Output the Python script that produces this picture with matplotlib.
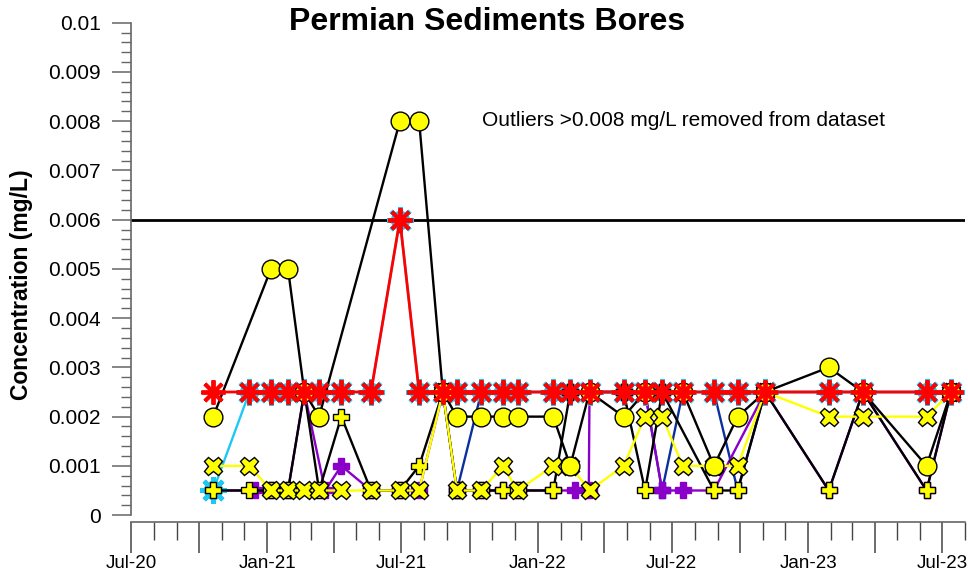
import matplotlib
matplotlib.use("Agg")
import matplotlib.pyplot as plt
import matplotlib.dates as mdates
from matplotlib.ticker import MultipleLocator, FuncFormatter
import numpy as np
import pandas as pd

plt.rcParams['font.family'] = ['Liberation Sans', 'DejaVu Sans']

# ---------------- data ----------------
dates = ["2020-10-20", "2020-12-08", "2021-01-06", "2021-01-29", "2021-02-20",
         "2021-03-12", "2021-04-11", "2021-05-21", "2021-06-29", "2021-07-25",
         "2021-08-26", "2021-09-14", "2021-10-17", "2021-11-15", "2021-12-05",
         "2022-01-22", "2022-02-14", "2022-03-12", "2022-04-27", "2022-05-26",
         "2022-06-18", "2022-07-16", "2022-08-27", "2022-09-28", "2022-11-04",
         "2023-01-29", "2023-03-16", "2023-06-10", "2023-07-13"]

red_bore = [0.0025, 0.0025, 0.0025, 0.0025, 0.0025, 0.0025, 0.0025, 0.0025, 0.006, 0.0025,
            0.0025, 0.0025, 0.0025, 0.0025, 0.0025, 0.0025, 0.0025, 0.0025, 0.0025, 0.0025,
            0.0025, 0.0025, 0.0025, 0.0025, 0.0025, 0.0025, 0.0025, 0.0025, 0.0025]

cyan_bore = [0.0005, 0.0025, 0.0025, 0.0025, 0.0025, 0.0025, 0.0025, 0.0025, 0.006, 0.0025,
             0.0025, 0.0025, 0.0025, 0.0025, 0.0025, 0.0025, 0.0025, 0.0025, 0.0025, 0.0025,
             0.0025, 0.0025, 0.0025, 0.0025, 0.0025, 0.0025, 0.0025, 0.0025, 0.0025]

circle_bore = [0.002, None, 0.005, 0.005, 0.0025, 0.002, None, None, 0.008, 0.008,
               0.0025, 0.002, 0.002, 0.002, 0.002, 0.002, 0.001, 0.0025, 0.002, 0.0025,
               None, 0.0025, 0.001, 0.002, 0.0025, 0.003, 0.0025, 0.001, 0.0025]

cross_bore = [0.001, 0.001, 0.0005, 0.0005, 0.0005, 0.0005, 0.0005, 0.0005, 0.0005, 0.0005,
              0.0025, 0.0005, 0.0005, 0.001, 0.0005, 0.001, 0.001, 0.0005, 0.001, 0.002,
              0.002, 0.001, 0.001, 0.001, 0.0025, 0.002, 0.002, 0.002, 0.0025]

plus_bore = [0.0005, 0.0005, 0.0005, 0.0005, 0.0025, 0.0005, 0.002, 0.0005, 0.0005, 0.001,
             0.0025, 0.0005, 0.0005, 0.0005, 0.0005, 0.0005, 0.0025, 0.0025, 0.0025, 0.0005,
             0.0025, None, 0.0005, 0.0005, 0.0025, 0.0005, 0.0025, 0.0005, 0.0025]

navy_bore = [None, None, None, None, None, None, None, None, None, None,
             0.0025, 0.0005, 0.0025, 0.0025, 0.0025, 0.0025, 0.0025, 0.0025, 0.0025, 0.0025,
             0.0005, 0.0025, 0.0025, 0.0005, 0.0025, 0.0025, 0.0025, 0.0025, 0.0025]

purple_dates = ["2020-10-20", "2020-12-16", "2021-01-06", "2021-01-29", "2021-02-20",
                "2021-03-20", "2021-04-11", "2021-05-21", "2021-06-29", "2021-07-25",
                "2021-08-26", "2021-09-14", "2021-10-17", "2021-11-15", "2021-12-05",
                "2022-01-22", "2022-02-20", "2022-03-11", "2022-03-12", "2022-04-27",
                "2022-05-26", "2022-06-18", "2022-07-16", "2022-08-27", "2022-11-04",
                "2023-01-29", "2023-03-16", "2023-06-10", "2023-07-13"]
purple_bore = [0.0005, 0.0005, 0.0005, 0.0005, 0.0025, 0.0005, 0.001, 0.0005, 0.0005, 0.0005,
               0.0025, 0.0005, 0.0005, 0.0005, 0.0005, 0.0005, 0.0005, 0.0005, 0.0025, 0.0025,
               0.0025, 0.0005, 0.0005, 0.0005, 0.0025, 0.0005, 0.0025, 0.0005, 0.0025]

guideline = 0.006
title = "Permian Sediments Bores"
ylabel = "Concentration (mg/L)"
note = "Outliers >0.008 mg/L removed from dataset"

# ---------------- plotting ----------------
def series(dts, vals):
    d = pd.to_datetime(pd.Series(dts))
    v = pd.Series(vals, dtype=float)
    m = v.notna()
    return d[m].values, v[m].values

fig = plt.figure(figsize=(9.68, 5.76), dpi=100)
ax = fig.add_axes([0.1353, 0.09375, 0.997 - 0.1353, 0.9606 - 0.09375])

ax.axhline(guideline, color='black', lw=2.0, zorder=1)

d, v = series(dates, navy_bore)
ax.plot(d, v, color='#0A2F9E', lw=1.7, marker='P', ms=11, mfc='#0A2F9E', mec='#0A2F9E', zorder=2)

d, v = series(purple_dates, purple_bore)
ax.plot(d, v, color='#8A00C8', lw=1.7, marker='P', ms=11, mfc='#8A00C8', mec='#8A00C8', zorder=3)

d, v = series(dates, cyan_bore)
ax.plot(d, v, color='#1EC8F5', lw=1.7, marker='o', ms=12, mfc='none', mec='#1EC8F5', mew=2, zorder=4)
ax.plot(d, v, ls='none', marker=(8, 2, 0), ms=19, mec='#1EC8F5', mew=3.2, zorder=4)

d, v = series(dates, plus_bore)
ax.plot(d, v, color='black', lw=1.7, marker='P', ms=12, mfc='#FFFF00', mec='black', mew=1.0, zorder=5)

d, v = series(dates, cross_bore)
ax.plot(d, v, color='#FFFF00', lw=1.7, marker='X', ms=13, mfc='#FFFF00', mec='black', mew=1.0, zorder=6)

d, v = series(dates, circle_bore)
ax.plot(d, v, color='black', lw=1.7, marker='o', ms=13.5, mfc='#FFFF00', mec='black', mew=1.0, zorder=7)

d, v = series(dates, red_bore)
ax.plot(d, v, color='#FF0000', lw=2.0, marker=(8, 2, 0), ms=17.5, mec='#FF0000', mew=2.8, zorder=8)

ax.set_xlim(pd.Timestamp("2020-07-01"), pd.Timestamp("2023-08-01"))
ax.set_ylim(-0.00014, 0.01)

ax.yaxis.set_major_locator(MultipleLocator(0.001))
ax.yaxis.set_minor_locator(MultipleLocator(0.0002))
ax.yaxis.set_major_formatter(FuncFormatter(lambda y, p: '0' if abs(y) < 1e-12 else ('%g' % round(y, 4))))

ax.xaxis.set_major_locator(mdates.MonthLocator(bymonth=[1, 4, 7, 10]))
ax.xaxis.set_minor_locator(mdates.MonthLocator())
ax.xaxis.set_major_formatter(FuncFormatter(
    lambda x, p: mdates.num2date(x).strftime('%b-%y') if mdates.num2date(x).month in (1, 7) else ''))

for s in ['top', 'right']:
    ax.spines[s].set_visible(False)
for s in ['left', 'bottom']:
    ax.spines[s].set_color('#666666')
    ax.spines[s].set_linewidth(1.2)
ax.spines['left'].set_bounds(0, 0.01)

ax.tick_params(axis='x', which='major', direction='out', length=22, width=1.1, color='#444444',
               labelsize=13.5, pad=2)
ax.tick_params(axis='x', which='minor', direction='out', length=13, width=1.0, color='#444444')
ax.tick_params(axis='y', which='major', direction='out', length=13.5, width=1.1, color='#666666',
               labelsize=15, pad=8)
ax.tick_params(axis='y', which='minor', direction='out', length=7, width=1.0, color='#666666')

fig.text(22 / 968, 1 - 285 / 576, ylabel, rotation=90, ha='center', va='center',
         fontsize=16.5, fontweight='bold')
fig.text(0.503, 0.962, title, ha='center', va='center', fontsize=23, fontweight='bold')
ax.text(0.706, 0.79, note, transform=fig.transFigure, ha='center', va='center', fontsize=15)

fig.savefig("out.png", dpi=100)
